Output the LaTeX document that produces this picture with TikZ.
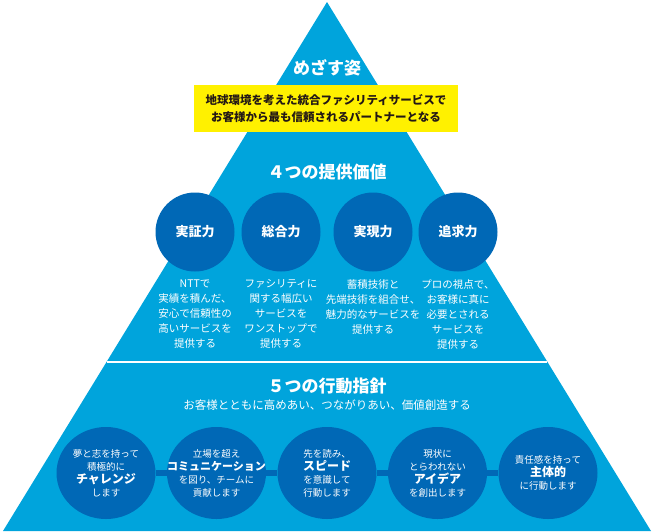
\documentclass[tikz,border=0pt]{standalone}
\usepackage{fontspec}
\setmainfont{Noto Sans CJK JP}
\usepackage{tikz}
\usetikzlibrary{positioning, calc, shapes.geometric}
\definecolor{skyblue}{HTML}{00A4DC}
\definecolor{deepblue}{HTML}{0068B6}
\definecolor{signyellow}{HTML}{FFF100}
\definecolor{inkgray}{HTML}{231815}
\newcommand{\keyword}[1]{{\fontsize{12}{14}\selectfont\bfseries #1}}

\begin{document}
\begin{tikzpicture}[x=1pt, y=-1pt,
      title/.style={text=white, font=\fontsize{17}{20}\selectfont\bfseries},
      value/.style={circle, fill=deepblue, minimum size=79pt, inner sep=0pt,
        text=white, font=\fontsize{13}{15}\selectfont\bfseries},
      desc/.style={text=white, align=center, inner sep=0pt,
        font=\fontsize{10.5}{15}\selectfont},
      policy/.style={ellipse, fill=deepblue, minimum width=99pt, minimum height=92pt,
        inner sep=-30pt, text=white, align=center, font=\fontsize{9.5}{13}\selectfont},
      bar/.style={deepblue, line width=6pt}]
      \useasboundingbox (0,0) rectangle (655,531);
      \coordinate (apex) at (327,2);
      \coordinate (bl) at (3,531);
      \coordinate (br) at (651,531);
      \fill[skyblue] (apex) -- (bl) -- (br) -- cycle;
      % \draw[white] (0,362) -- (655,362);
      \draw[white, line width=1.5pt] ($(apex)!0.6805!(bl)$) -- ($(apex)!0.6805!(br)$);

      \node[title] (aim) at (327,68) {めざす姿};
      \node[fill=signyellow, text=inkgray, minimum width=264pt, minimum height=47pt,
        inner sep=0pt, align=center, font=\fontsize{11.5}{17}\selectfont\bfseries]
        (vision) at (326,108.5) {地球環境を考えた統合ファシリティサービスで\\お客様から最も信頼されるパートナーとなる};

      \node[title] (values) at (327,172) {４つの提供価値};
      \node[value] (c1) at (195,232) {実証力};
      \node[value] (c2) at (281,232) {総合力};
      \node[value] (c3) at (373,232) {実現力};
      \node[value] (c4) at (458,232) {追求力};
      \node[desc, below=8pt of c1] (d1) {NTTで\\実績を積んだ、\\安心で信頼性の\\高いサービスを\\提供する};
      \node[desc, below=8pt of c2] (d2) {ファシリティに\\関する幅広い\\サービスを\\ワンストップで\\提供する};
      \node[desc, below=8pt of c3] (d3) {蓄積技術と\\先端技術を組合せ、\\魅力的なサービスを\\提供する};
      \node[desc, below=8pt of c4] (d4) {プロの視点で、\\お客様に真に\\必要とされる\\サービスを\\提供する};

      \node[title] (policies) at (327,386) {５つの行動指針};
      \node[text=white, font=\fontsize{11.5}{13}\selectfont] (motto) at (327,405)
        {お客様とともに高めあい、つながりあい、価値創造する};
      \node[policy] (p1) at (106,473) {夢と志を持って\\積極的に\\\keyword{チャレンジ}\\します};
      \node[policy] (p2) at (216.5,473) {立場を超え\\{\fontsize{11}{14}\selectfont\bfseries コミュニケーション}\\を図り、チームに\\貢献します};
      \node[policy] (p3) at (327,473) {先を読み、\\\keyword{スピード}\\を意識して\\行動します};
      \node[policy] (p4) at (437.5,473) {現状に\\とらわれない\\\keyword{アイデア}\\を創出します};
      \node[policy] (p5) at (548,473) {責任感を持って\\\keyword{主体的}\\に行動します};
      \foreach \a/\b in {p1/p2, p2/p3, p3/p4, p4/p5}
        \draw[bar] (\a) -- (\b);
    \end{tikzpicture}
\end{document}
